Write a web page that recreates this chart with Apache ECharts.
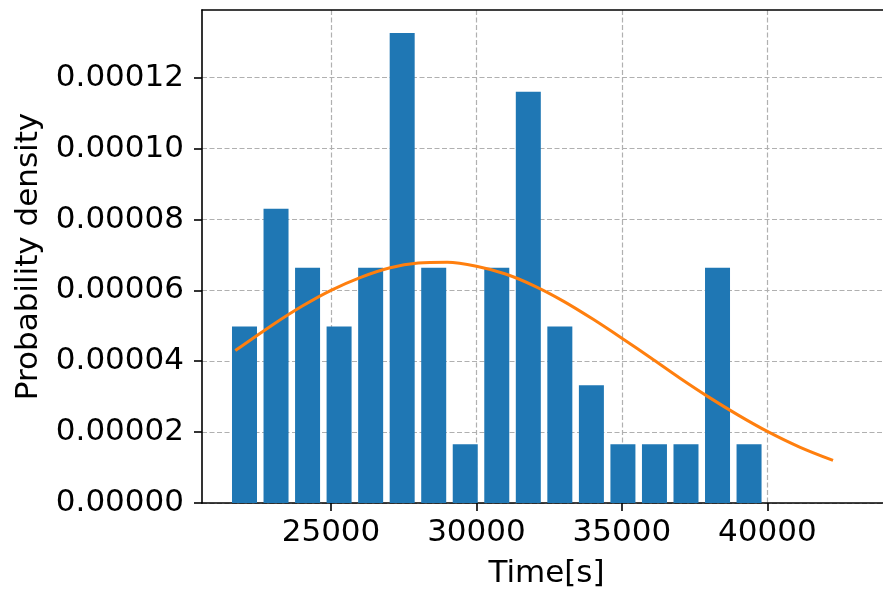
<!DOCTYPE html>
<html>
<head>
<meta charset="utf-8">
<script src="https://cdn.jsdelivr.net/npm/echarts@6/dist/echarts.min.js"></script>
<style>
html,body{margin:0;padding:0;background:#fff;}
#chart{width:883px;height:594px;}
</style>
</head>
<body>
<div id="chart"></div>
<script>
// Histogram bin centres (Time[s]) and probability densities
const binCenters = [22026, 23110, 24194, 25278, 26363, 27447, 28531, 29615, 30699, 31783, 32867, 33952, 35036, 36120, 37204, 38288, 39372];
const densities = [0.0000498, 0.0000830, 0.0000664, 0.0000498, 0.0000664, 0.0001326, 0.0000664, 0.0000166, 0.0000664, 0.0001160, 0.0000498, 0.0000332, 0.0000166, 0.0000166, 0.0000166, 0.0000664, 0.0000166];
// Fitted density curve
const curveX = [21710, 23000, 24000, 25000, 26000, 27000, 28000, 29000, 30000, 31000, 32000, 33000, 34000, 35000, 36000, 37000, 38000, 39000, 40000, 41130, 42259];
const curveY = [0.0000430, 0.0000503, 0.0000555, 0.0000600, 0.0000636, 0.0000663, 0.0000677, 0.0000679, 0.0000668, 0.0000646, 0.0000612, 0.0000569, 0.0000519, 0.0000465, 0.0000409, 0.0000352, 0.0000298, 0.0000248, 0.0000202, 0.0000157, 0.0000120];
// Tick labels
const xTicks = [25000, 30000, 35000, 40000];
const yTicks = [0, 0.00002, 0.00004, 0.00006, 0.00008, 0.00010, 0.00012];

const FONT = 'DejaVu Sans';
const chart = echarts.init(document.getElementById('chart'), null, {renderer: 'canvas'});
const xMin = 20565, xMax = 43977, yMax = 0.0001391;
const gridLine = {show: true, lineStyle: {color: '#b0b0b0', width: 1.2, type: [5, 2.5]}};

chart.setOption({
  animation: false,
  backgroundColor: '#ffffff',
  grid: {left: 202, right: 0, top: 10, bottom: 90, containLabel: false},
  xAxis: [{
    type: 'value', min: xMin, max: xMax,
    name: 'Time[s]', nameLocation: 'middle', nameGap: 55,
    nameTextStyle: {fontFamily: FONT, fontSize: 31, color: '#000', padding: [0, 0, 0, 8]},
    axisLine: {show: true, lineStyle: {color: '#000', width: 1.6}},
    axisTick: {show: true, length: 8, lineStyle: {color: '#000', width: 1.6}, customValues: xTicks},
    axisLabel: {fontFamily: FONT, fontSize: 31, color: '#000', margin: 14, customValues: xTicks,
      formatter: v => String(Math.round(v))},
    splitLine: gridLine
  }, {
    type: 'value', position: 'top', min: xMin, max: xMax,
    axisLine: {show: true, lineStyle: {color: '#000', width: 1.6}},
    axisTick: {show: false}, axisLabel: {show: false}, splitLine: {show: false}
  }],
  yAxis: {
    type: 'value', min: 0, max: yMax, interval: 0.00002,
    name: 'Probability density', nameLocation: 'middle', nameGap: 158,
    nameTextStyle: {fontFamily: FONT, fontSize: 31, color: '#000'},
    axisLine: {show: true, lineStyle: {color: '#000', width: 1.6}},
    axisTick: {show: true, length: 8, lineStyle: {color: '#000', width: 1.6}, customValues: yTicks},
    axisLabel: {fontFamily: FONT, fontSize: 31, color: '#000', margin: 18, customValues: yTicks,
      formatter: v => v.toFixed(5)},
    splitLine: gridLine
  },
  series: [{
    type: 'bar', xAxisIndex: 0,
    data: binCenters.map((x, i) => [x, densities[i]]),
    barWidth: 25,
    itemStyle: {color: '#1f77b4'},
    z: 2
  }, {
    type: 'line', xAxisIndex: 0,
    data: curveX.map((x, i) => [x, curveY[i]]),
    smooth: 0.3, showSymbol: false, symbol: 'none',
    lineStyle: {color: '#ff7f0e', width: 3},
    z: 3
  }]
});
</script>
</body>
</html>
